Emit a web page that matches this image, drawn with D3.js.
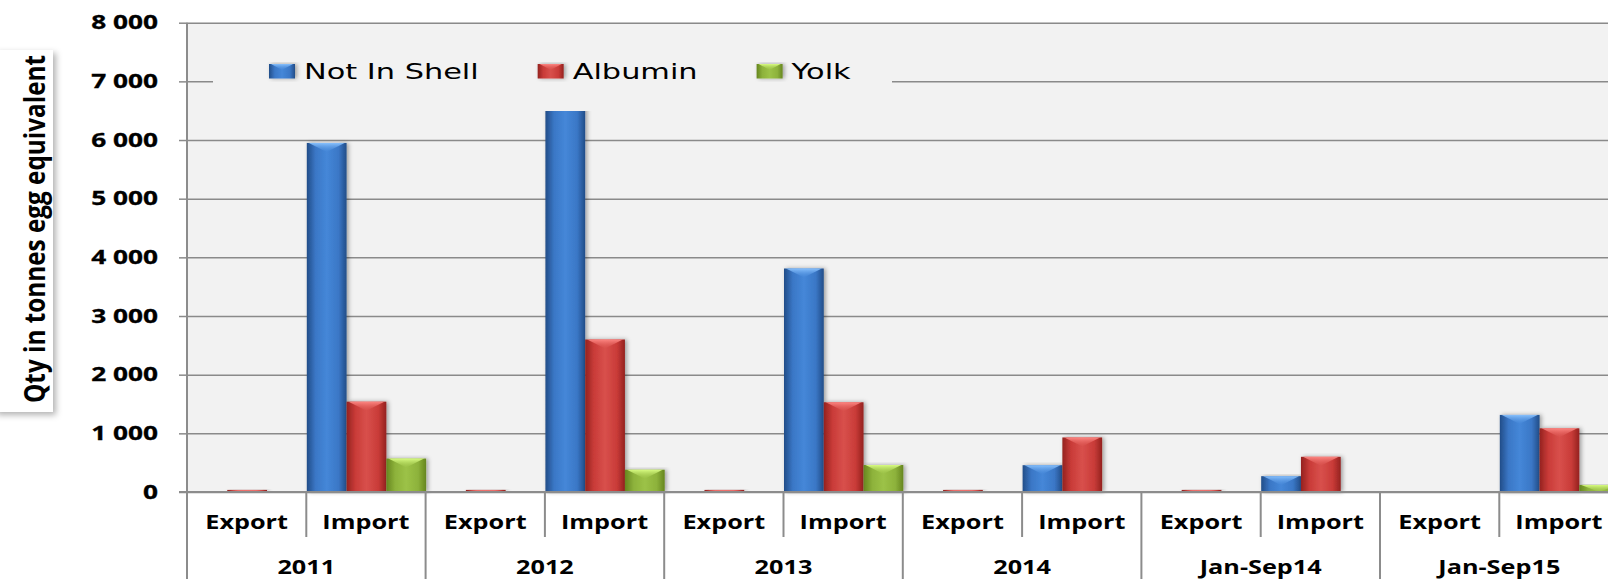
<!DOCTYPE html>
<html lang="en">
<head>
<meta charset="UTF-8">
<title>Egg products: export and import</title>
<script src="https://d3js.org/d3.v7.min.js"></script>
<style>
  body { margin: 0; background: #fff; overflow: hidden; }
  svg { display: block; }
  .ytick text { font-family: "Open Sans", sans-serif; font-weight: 700; font-size: 19px; fill: #000; }
  .cat-label { font-family: "Open Sans", sans-serif; font-weight: 700; font-size: 19px; fill: #000; }
  .legend-label { font-family: "DejaVu Sans", sans-serif; font-size: 22px; fill: #000; }
  .y-title { font-family: "Open Sans", sans-serif; font-weight: 700; font-size: 24px; fill: #000; }
</style>
</head>
<body>
<div id="chart"></div>
<script>
// categories
const years = ["2011", "2012", "2013", "2014", "Jan-Sep14", "Jan-Sep15"];
const flows = ["Export", "Import"];
const seriesNames = ["Not In Shell", "Albumin", "Yolk"];

// values in tonnes egg equivalent, one per year
const notInShellExport = [0, 0, 0, 0, 0, 0];
const notInShellImport = [5950, 7250, 3810, 457, 270, 1314];
const albuminExport = [35, 35, 35, 35, 35, 0];
const albuminImport = [1540, 2600, 1530, 930, 600, 1086];
const yolkExport = [0, 0, 0, 0, 0, 0];
const yolkImport = [570, 380, 460, 12, 10, 120];

const yTicks = [0, 1000, 2000, 3000, 4000, 5000, 6000, 7000, 8000];

const byFlow = {
    Export: [notInShellExport, albuminExport, yolkExport],
    Import: [notInShellImport, albuminImport, yolkImport]
};

// build one row per year/flow
const rows = [];
years.forEach((year, i) => {
    flows.forEach(flow => {
        rows.push({
            year, flow,
            values: seriesNames.map((s, k) => ({ series: s, k, value: byFlow[flow][k][i] }))
        });
    });
});

const W = 1608, H = 579;
const stretch = 1.38; // the reference text is drawn wide

const svg = d3.select("#chart").append("svg")
    .attr("width", W)
    .attr("height", H);

const palette = [
    { dark: "#224d88", mid: "#3a77c6", light: "#4587d8", bevel: "#8cc4ff" },
    { dark: "#94221f", mid: "#c93b38", light: "#d8504c", bevel: "#ff8a86" },
    { dark: "#66861f", mid: "#8db23b", light: "#9cc247", bevel: "#dcff86" }
];

const defs = svg.append("defs");
palette.forEach((c, i) => {
    const g = defs.append("linearGradient").attr("id", "bar" + i)
        .attr("x1", "0").attr("x2", "1").attr("y1", "0").attr("y2", "0");
    g.append("stop").attr("offset", "0%").attr("stop-color", c.dark);
    g.append("stop").attr("offset", "22%").attr("stop-color", c.mid);
    g.append("stop").attr("offset", "50%").attr("stop-color", c.light);
    g.append("stop").attr("offset", "80%").attr("stop-color", c.mid);
    g.append("stop").attr("offset", "100%").attr("stop-color", c.dark);

    const b = defs.append("linearGradient").attr("id", "bevel" + i)
        .attr("x1", "0").attr("x2", "0").attr("y1", "0").attr("y2", "1");
    b.append("stop").attr("offset", "0%").attr("stop-color", c.bevel).attr("stop-opacity", 0.95);
    b.append("stop").attr("offset", "100%").attr("stop-color", c.light).attr("stop-opacity", 0.3);
});

const shadow = defs.append("filter").attr("id", "shadow")
    .attr("x", "-30%").attr("y", "-10%").attr("width", "160%").attr("height", "130%");
shadow.append("feDropShadow").attr("dx", 2).attr("dy", 0).attr("stdDeviation", 2)
    .attr("flood-color", "#000").attr("flood-opacity", 0.35);

const boxShadow = defs.append("filter").attr("id", "boxShadow")
    .attr("x", "-20%").attr("y", "-10%").attr("width", "150%").attr("height", "120%");
boxShadow.append("feDropShadow").attr("dx", 3).attr("dy", 3).attr("stdDeviation", 3)
    .attr("flood-color", "#000").attr("flood-opacity", 0.3);

// scales
const left = 187, groupW = 238.6;
const x0 = d3.scaleBand().domain(years).range([left, left + groupW * years.length]);
const x1 = d3.scaleBand().domain(flows).range([0, x0.bandwidth()]);
const x2 = d3.scaleBand().domain(seriesNames).range([0, x1.bandwidth()]);
const y = d3.scaleLinear().domain([0, 8000]).range([492, 22.7]);

const plotRight = x0.range()[1];

// plot background
svg.append("rect")
    .attr("x", left).attr("y", y(8000))
    .attr("width", plotRight - left).attr("height", y(0) - y(8000))
    .attr("fill", "#f2f2f2");

// gridlines
svg.append("g")
    .attr("transform", `translate(${left},0)`)
    .call(d3.axisLeft(y).tickValues(yTicks).tickSize(-(plotRight - left)).tickFormat(""))
    .call(g => g.select(".domain").remove())
    .call(g => g.selectAll("line").attr("stroke", "#8a8a8a").attr("stroke-width", 1.5));

// y axis ticks and labels
const fmt = d => d3.format(",")(d).replace(/,/g, " ");
svg.append("g")
    .attr("class", "ytick")
    .attr("transform", `translate(${left},0)`)
    .call(d3.axisLeft(y).tickValues(yTicks).tickSize(8).tickPadding(21).tickFormat(fmt))
    .call(g => g.select(".domain").remove())
    .call(g => g.selectAll("line").attr("stroke", "#8a8a8a").attr("stroke-width", 1.5))
    .call(g => g.selectAll("text")
        .attr("transform", "translate(-29,0) scale(" + stretch + ",1)")
        .attr("x", 0)
        .attr("stroke", "#000").attr("stroke-width", 0.3));

// bars
const cats = svg.append("g").selectAll("g")
    .data(rows)
    .join("g")
    .attr("transform", d => `translate(${x0(d.year) + x1(d.flow)},0)`);

const bar = cats.selectAll("g")
    .data(d => d.values.filter(v => v.value > 0))
    .join("g");

bar.append("rect")
    .attr("x", d => x2(d.series) + 0.5)
    .attr("y", d => y(d.value))
    .attr("width", x2.bandwidth())
    .attr("height", d => y(0) - y(d.value))
    .attr("fill", d => `url(#bar${d.k})`)
    .attr("filter", "url(#shadow)");

bar.append("polygon")
    .attr("points", d => {
        const bx = x2(d.series) + 0.5, bw = x2.bandwidth(), top = y(d.value);
        const depth = Math.min(9, y(0) - top);
        return [[bx + 2, top], [bx + bw - 2, top], [bx + bw / 2, top + depth]].map(p => p.join(",")).join(" ");
    })
    .attr("fill", d => `url(#bevel${d.k})`);

// legend box sits over the plot
const legend = svg.append("g");
legend.append("rect")
    .attr("x", 213).attr("y", 34).attr("width", 679).attr("height", 77)
    .attr("fill", "#f2f2f2");

let lx = 269;
seriesNames.forEach((s, i) => {
    const item = legend.append("g");
    item.append("rect")
        .attr("x", lx).attr("y", 64).attr("width", 26).attr("height", 14.5)
        .attr("fill", `url(#bar${i})`)
        .attr("filter", "url(#shadow)");
    item.append("polygon")
        .attr("points", `${lx + 2},64 ${lx + 24},64 ${lx + 13},70`)
        .attr("fill", `url(#bevel${i})`);
    const t = item.append("text")
        .attr("class", "legend-label")
        .attr("transform", `translate(${lx + 35},79) scale(${stretch},1)`)
        .text(s);
    const w = t.node().getComputedTextLength() * stretch;
    lx = lx + 35 + w + 59;
});

// category axis
const axisColor = "#8c8c8c";
svg.append("line")
    .attr("x1", left).attr("x2", left).attr("y1", y(8000)).attr("y2", H)
    .attr("stroke", axisColor).attr("stroke-width", 2);

svg.append("line")
    .attr("x1", left - 8).attr("x2", plotRight).attr("y1", y(0)).attr("y2", y(0))
    .attr("stroke", axisColor).attr("stroke-width", 2);

svg.append("g").selectAll("line")
    .data(years)
    .join("line")
    .attr("x1", d => x0(d) + x1("Import")).attr("x2", d => x0(d) + x1("Import"))
    .attr("y1", y(0)).attr("y2", 537)
    .attr("stroke", axisColor).attr("stroke-width", 2);

svg.append("g").selectAll("line")
    .data(years.slice(1))
    .join("line")
    .attr("x1", d => x0(d)).attr("x2", d => x0(d))
    .attr("y1", y(0)).attr("y2", H)
    .attr("stroke", axisColor).attr("stroke-width", 2);

const catStretch = 1.33;
svg.append("g").selectAll("text")
    .data(rows)
    .join("text")
    .attr("class", "cat-label")
    .attr("text-anchor", "middle")
    .attr("transform", d => `translate(${x0(d.year) + x1(d.flow) + x1.bandwidth() / 2},529) scale(${catStretch},1)`)
    .text(d => d.flow);

svg.append("g").selectAll("text")
    .data(years)
    .join("text")
    .attr("class", "cat-label")
    .attr("text-anchor", "middle")
    .attr("transform", d => `translate(${x0(d) + x0.bandwidth() / 2},574) scale(${catStretch},1)`)
    .text(d => d);

// y axis title in a white box
svg.append("rect")
    .attr("x", -6).attr("y", 50).attr("width", 59).attr("height", 362)
    .attr("fill", "#fff")
    .attr("filter", "url(#boxShadow)");

svg.append("text")
    .attr("class", "y-title")
    .attr("text-anchor", "middle")
    .attr("transform", "translate(45,229) scale(1.18,1) rotate(-90)")
    .attr("textLength", 348)
    .attr("lengthAdjust", "spacingAndGlyphs")
    .text("Qty in tonnes egg equivalent");
</script>
</body>
</html>
